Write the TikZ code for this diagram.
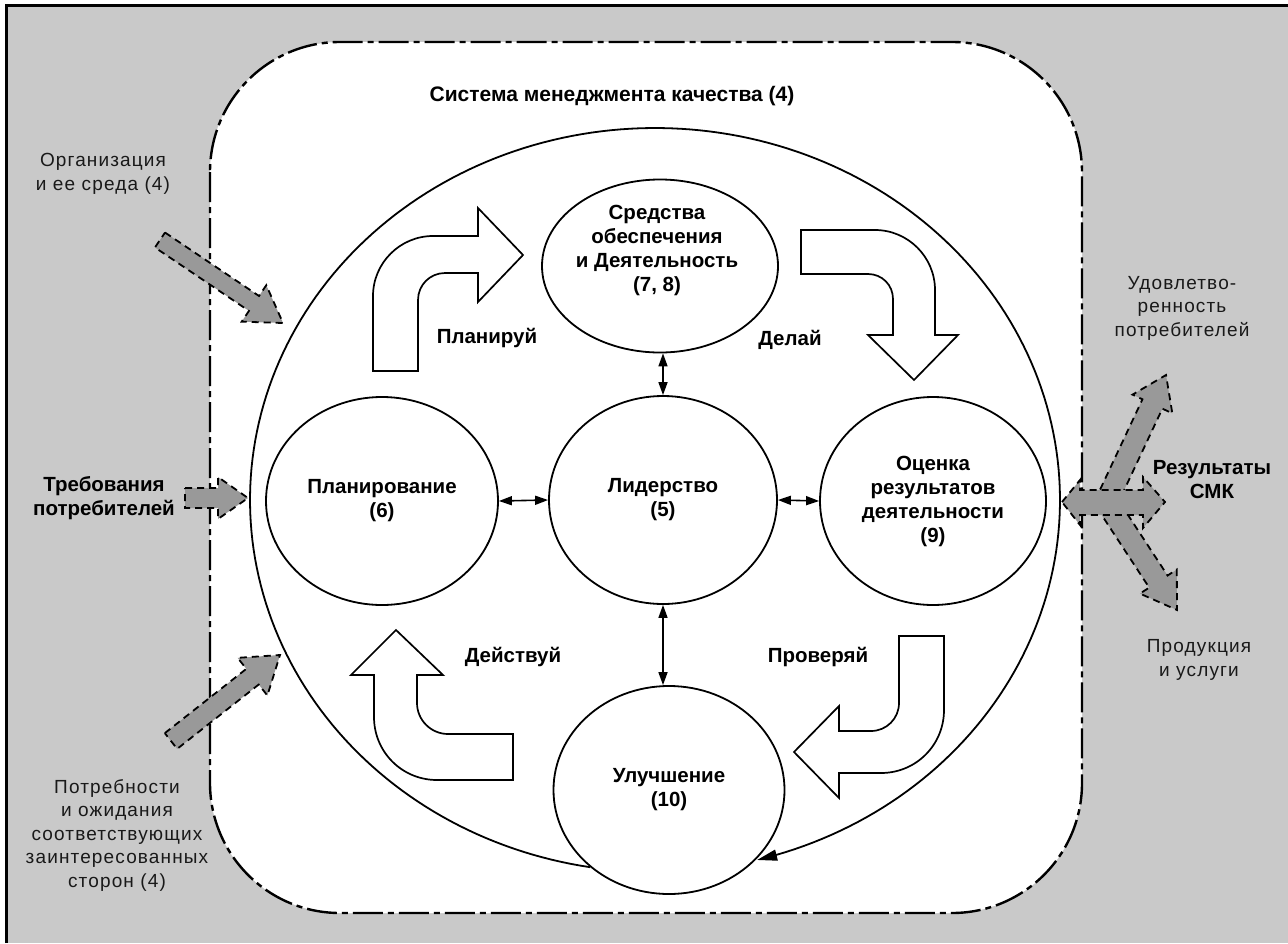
\documentclass[tikz,border=0pt]{standalone}
\usepackage{fontspec}
\setmainfont{Liberation Sans}
\usetikzlibrary{arrows.meta,shapes.geometric,calc}
\tikzset{
  circ/.style={ellipse, draw, line width=1.8pt, fill=white, inner sep=0pt},
  lbl/.style={font=\addfontfeature{LetterSpace=6}\fontsize{19}{23.5}\selectfont, align=center, text=black!90},
  blbl/.style={font=\bfseries\fontsize{20.5}{24}\selectfont, align=center},
  bendarrow/.style={draw, line width=1.7pt, fill=white, line join=miter},
  grayarr/.style={draw, fill=black!40, line width=1.8pt, dash pattern=on 7pt off 5pt},
  biarrow/.style={{Triangle[length=13pt,width=9pt]}-{Triangle[length=13pt,width=9pt]}, line width=1.6pt},
  qms/.style={fill=white, line width=2.4pt, rounded corners=130pt, dash pattern=on 30pt off 5pt on 6pt off 5pt},
}
\newcommand\fatarrow[5]{%
  \draw[grayarr] ($(#1)!#3!90:(#2)$) -- ($(#2)!#5!(#1)!#3!-90:(#1)$) -- ($(#2)!#5!(#1)!#4!-90:(#1)$) -- (#2) -- ($(#2)!#5!(#1)!#4!90:(#1)$) -- ($(#2)!#5!(#1)!#3!90:(#1)$) -- ($(#1)!#3!-90:(#2)$) -- cycle;}
\begin{document}
\begin{tikzpicture}[x=1pt,y=-1pt]
\useasboundingbox (0,0) rectangle (1288,943);
\fill[white] (0,0) rectangle (1288,943);
\fill[black!21] (6,5) rectangle (1288,943);
\draw[line width=3pt] (6,943) -- (6,5) -- (1288,5);
% QMS boundary
\draw[qms] (210,42) rectangle (1082,913);
\node[blbl, font=\bfseries\fontsize{21}{25}\selectfont] (title) at (612,96) {Система менеджмента качества (4)};
% big cycle
\draw[line width=1.8pt, -{Triangle[length=20pt,width=11pt]}] plot[domain=99.2:435.4, samples=240] ({655+405*cos(\x)},{500+372*sin(\x)});
% PDCA bent arrows
\draw[bendarrow] (373,371) -- (373,296) .. controls (373,263) and (400,236) .. (433,236) -- (478,236) -- (478,208) -- (523,255) -- (478,302) -- (478,273) -- (445,273) .. controls (430,273) and (418,285) .. (418,300) -- (418,371) -- cycle;
\draw[bendarrow] (801,230) -- (875,230) .. controls (908,230) and (935,257) .. (935,290) -- (935,335) -- (958,335) -- (914,380) -- (868,335) -- (893,335) -- (893,299) .. controls (893,285) and (882,274) .. (868,274) -- (801,274) -- cycle;
\draw[bendarrow] (899,636) -- (944,636) -- (944,710) .. controls (944,745) and (916,773) .. (881,773) -- (839,773) -- (839,798) -- (794,752) -- (839,706) -- (839,731) -- (871,731) .. controls (886.5,731) and (899,718.5) .. (899,703) -- cycle;
\draw[bendarrow] (396,630) -- (443,675) -- (417,675) -- (417,703) .. controls (417,720) and (431,734) .. (448,734) -- (513,734) -- (513,780) -- (437,780) .. controls (402,780) and (374,752) .. (374,717) -- (374,675) -- (351,675) -- cycle;
\node[blbl] (plan-l) at (487,338) {Планируй};
\node[blbl] (do-l) at (790,340) {Делай};
\node[blbl] (act-l) at (513,657) {Действуй};
\node[blbl] (chk-l) at (818,657) {Проверяй};
% circles
\node[circ, minimum width=236pt, minimum height=173pt] (res) at (660,266) {};
\node[blbl] (res-t) at (657,250) {Средства\\обеспечения\\и Деятельность\\(7, 8)};
\node[circ, minimum width=232pt, minimum height=208pt, blbl] (plan) at (382,501) {Планирование\\(6)};
\node[circ, minimum width=228pt, minimum height=208pt, blbl] (lead) at (663,500) {Лидерство\\(5)};
\node[circ, minimum width=226pt, minimum height=208pt, blbl] (eval) at (933,501) {Оценка\\результатов\\деятельности\\(9)};
\node[circ, minimum width=231pt, minimum height=208pt, blbl] (impr) at (669,790) {Улучшение\\(10)};
\draw[biarrow] (plan.east) -- (lead.west);
\draw[biarrow] (lead.east) -- (eval.west);
\draw[biarrow] (lead.north) -- (lead.north |- res.south);
\draw[biarrow] (lead.south) -- (lead.south |- impr.north);
% gray input arrows
\coordinate (orgT) at (160,240); \coordinate (orgH) at (283,323);
\coordinate (reqT) at (185,498); \coordinate (reqH) at (248,498);
\coordinate (stkT) at (171,741); \coordinate (stkH) at (280,655);
\fatarrow{orgT}{orgH}{9pt}{22pt}{35pt}
\fatarrow{reqT}{reqH}{10pt}{21pt}{30pt}
\fatarrow{stkT}{stkH}{10pt}{24pt}{35pt}
% gray output arrows
\coordinate (upT) at (1105,505); \coordinate (upH) at (1166,375);
\coordinate (dnT) at (1105,500); \coordinate (dnH) at (1177,610);
\fatarrow{upT}{upH}{11pt}{22pt}{32pt}
\fatarrow{dnT}{dnH}{11pt}{22pt}{34pt}
\coordinate (resL) at (1062,502); \coordinate (resR) at (1165,502);
\draw[grayarr] (resL) -- (1080,480) -- (1080,490) -- (1143,490) -- (1143,477) -- (resR) -- (1143,528) -- (1143,515) -- (1080,515) -- (1080,525) -- cycle;
% outside labels
\node[lbl] (org) at (103,174) {Организация\\и ее среда (4)};
\node[blbl] (req) at (104,498) {Требования\\потребителей};
\node[lbl] (stk) at (117,835) {Потребности\\и ожидания\\соответствующих\\заинтересованных\\сторон (4)};
\node[lbl] (sat) at (1182,308) {Удовлетво-\\ренность\\потребителей};
\node[blbl] (resl) at (1212,480) {Результаты\\СМК};
\node[lbl] (prod) at (1199,660) {Продукция\\и услуги};
\end{tikzpicture}
\end{document}
